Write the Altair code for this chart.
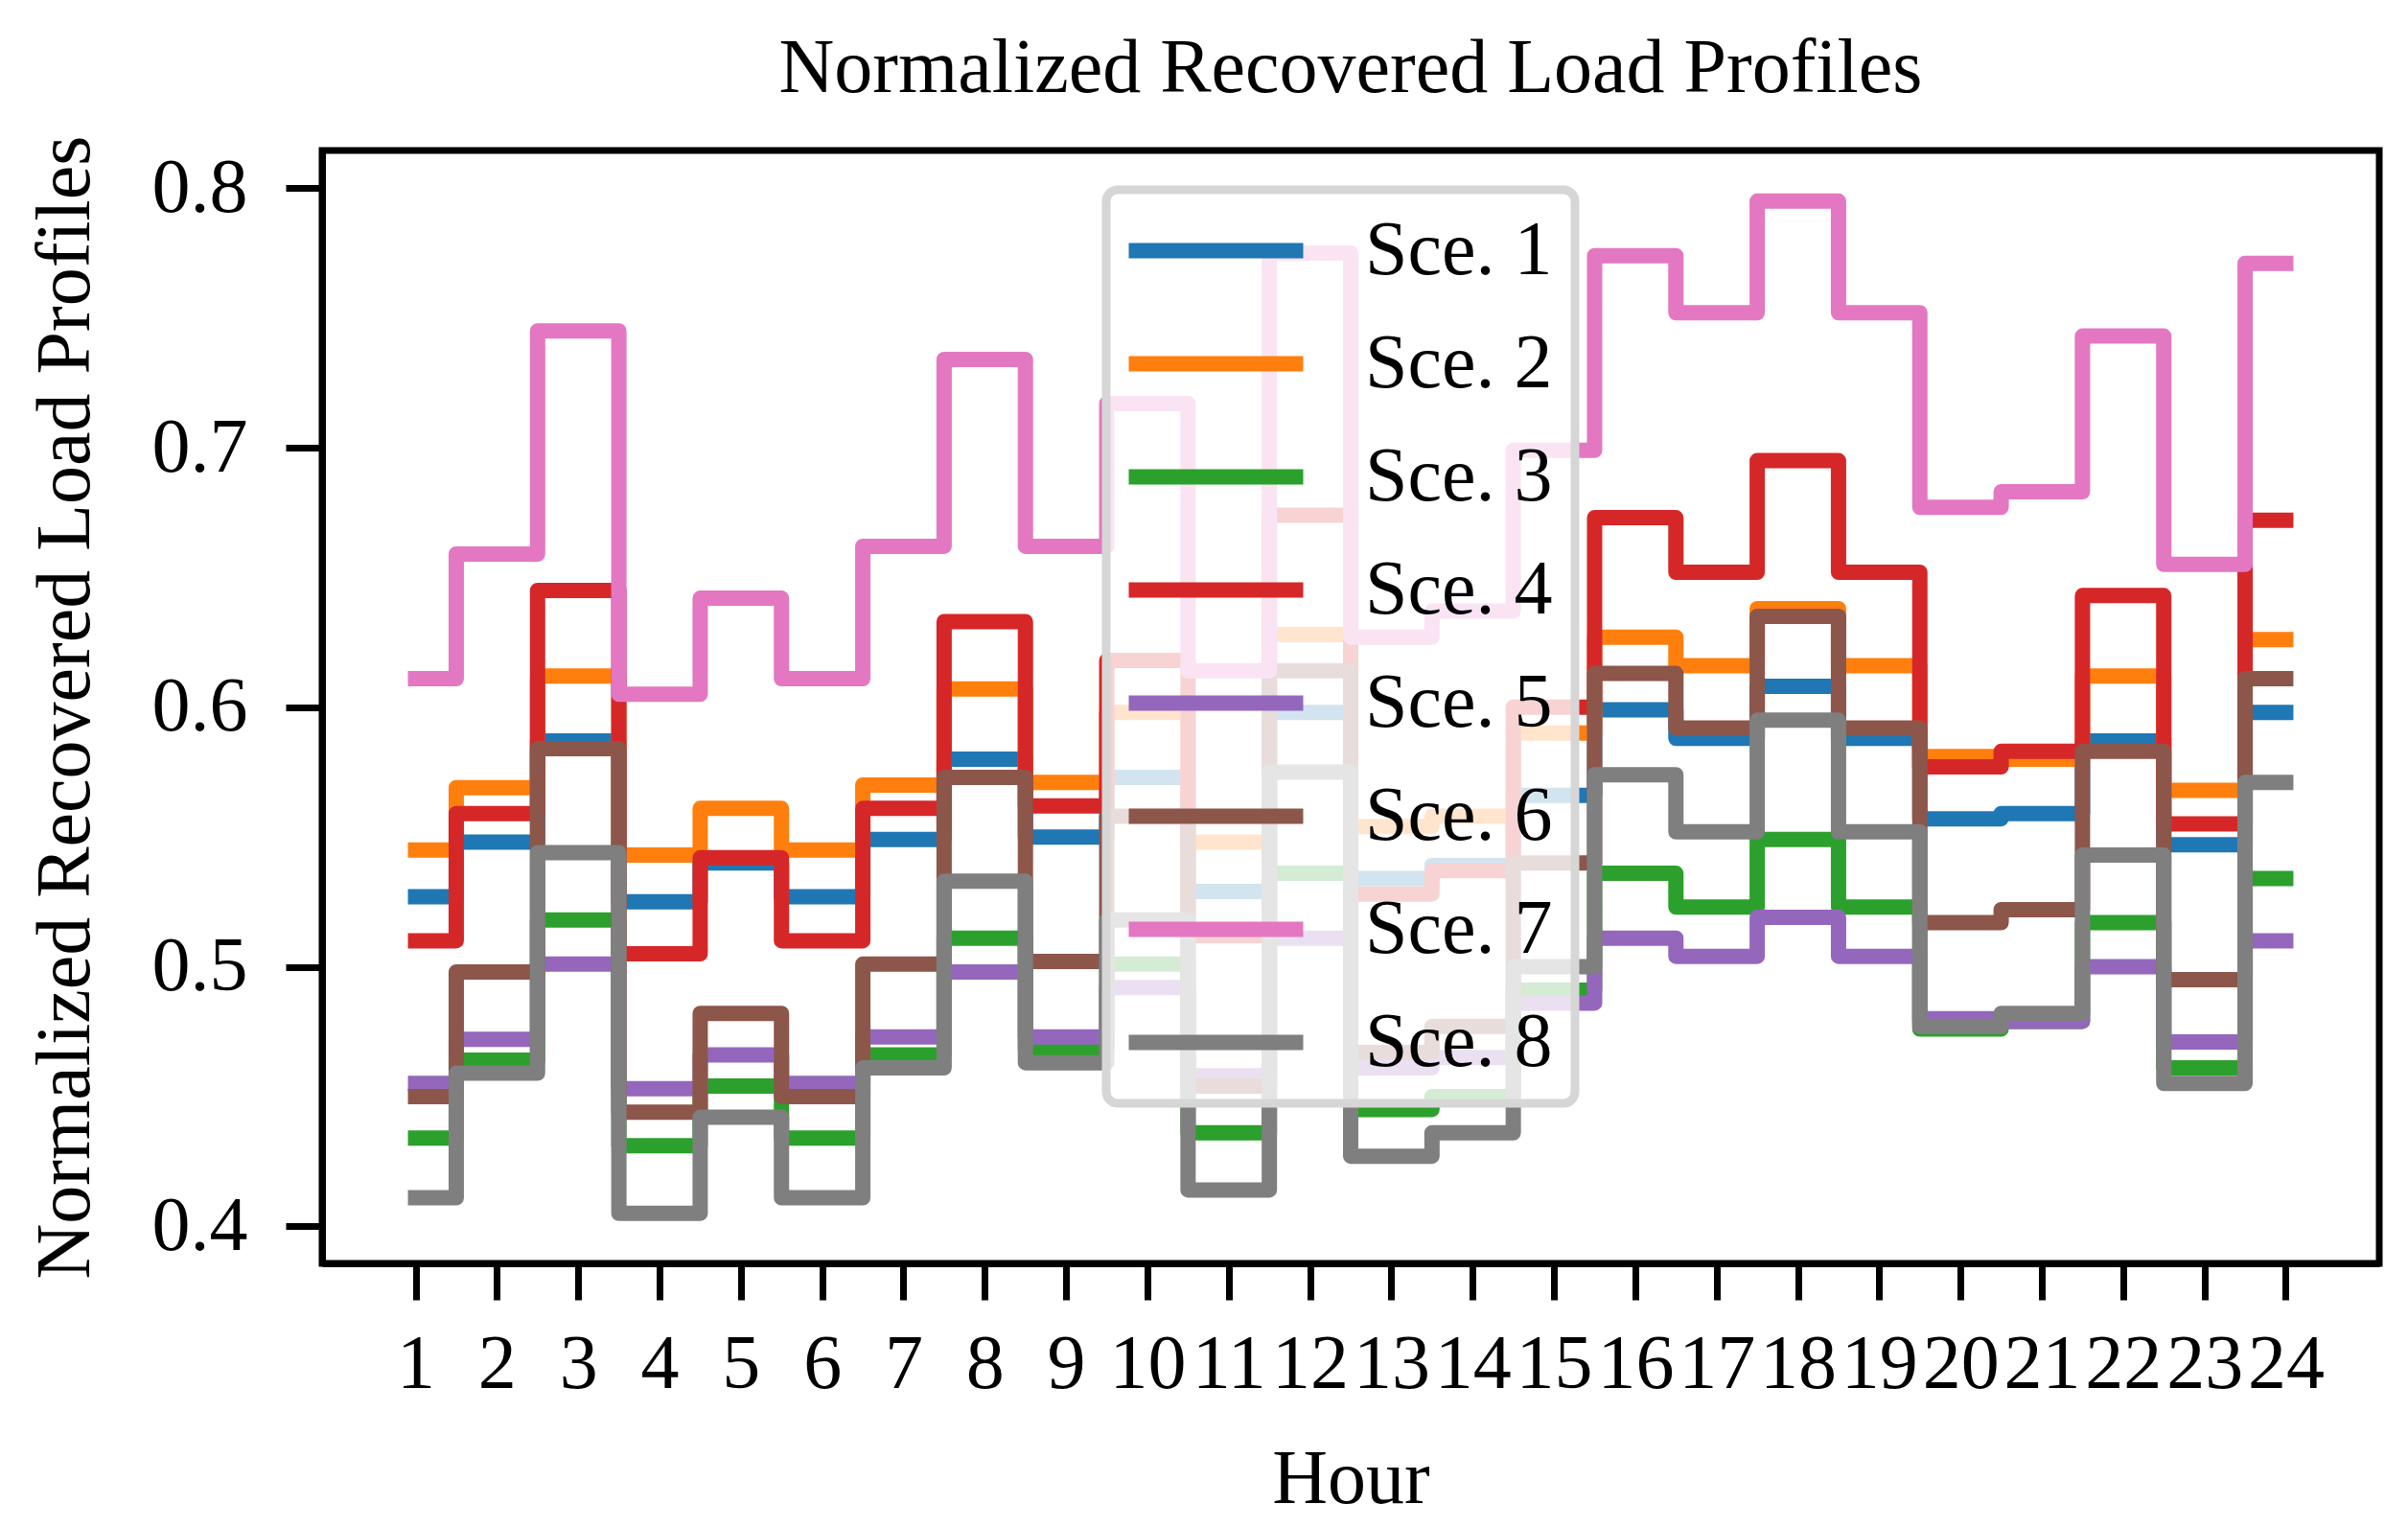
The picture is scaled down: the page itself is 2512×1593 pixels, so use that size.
import altair as alt
import pandas as pd

hours = list(range(1, 25))
series_names = ["Sce. 1", "Sce. 2", "Sce. 3", "Sce. 4", "Sce. 5", "Sce. 6", "Sce. 7", "Sce. 8"]
colors = ["#1f77b4", "#ff7f0e", "#2ca02c", "#d62728", "#9467bd", "#8c564b", "#e377c2", "#7f7f7f"]

sce1 = [0.527, 0.548, 0.587, 0.525, 0.540, 0.527, 0.549, 0.580, 0.550, 0.573, 0.529, 0.598,
        0.534, 0.539, 0.566, 0.599, 0.588, 0.608, 0.588, 0.557, 0.559, 0.587, 0.547, 0.598]
sce2 = [0.545, 0.569, 0.612, 0.543, 0.561, 0.545, 0.570, 0.607, 0.571, 0.598, 0.548, 0.628,
        0.554, 0.558, 0.590, 0.627, 0.616, 0.638, 0.616, 0.581, 0.580, 0.612, 0.568, 0.626]
sce3 = [0.434, 0.464, 0.518, 0.431, 0.454, 0.434, 0.466, 0.511, 0.468, 0.501, 0.436, 0.536,
        0.445, 0.450, 0.491, 0.536, 0.523, 0.549, 0.523, 0.476, 0.479, 0.517, 0.461, 0.534]
sce4 = [0.510, 0.559, 0.645, 0.505, 0.542, 0.510, 0.561, 0.633, 0.562, 0.618, 0.512, 0.674,
        0.528, 0.537, 0.600, 0.673, 0.652, 0.695, 0.652, 0.577, 0.583, 0.643, 0.555, 0.672]
sce5 = [0.455, 0.472, 0.501, 0.453, 0.466, 0.455, 0.473, 0.498, 0.473, 0.492, 0.458, 0.511,
        0.461, 0.465, 0.486, 0.511, 0.504, 0.519, 0.504, 0.480, 0.479, 0.500, 0.471, 0.510]
sce6 = [0.450, 0.498, 0.584, 0.444, 0.482, 0.450, 0.501, 0.573, 0.502, 0.558, 0.454, 0.614,
        0.467, 0.477, 0.540, 0.613, 0.592, 0.635, 0.592, 0.517, 0.522, 0.583, 0.495, 0.611]
sce7 = [0.611, 0.659, 0.745, 0.605, 0.642, 0.611, 0.662, 0.734, 0.662, 0.717, 0.614, 0.775,
        0.627, 0.637, 0.699, 0.774, 0.752, 0.795, 0.752, 0.677, 0.683, 0.743, 0.655, 0.771]
sce8 = [0.411, 0.459, 0.544, 0.405, 0.442, 0.411, 0.461, 0.533, 0.463, 0.518, 0.414, 0.575,
        0.427, 0.436, 0.500, 0.574, 0.552, 0.595, 0.552, 0.477, 0.482, 0.543, 0.455, 0.571]

y_ticks = [0.4, 0.5, 0.6, 0.7, 0.8]

all_series = [sce1, sce2, sce3, sce4, sce5, sce6, sce7, sce8]
rows = []
for k, (name, vals) in enumerate(zip(series_names, all_series)):
    for h, v in zip(hours, vals):
        rows.append({"Hour": h, "Load": v, "Scenario": name, "k": k})
df = pd.DataFrame(rows)

FONT = "Liberation Serif"
W, H = 2146, 1161

chart = alt.Chart(df).mark_line(
    interpolate="step", strokeWidth=16, strokeJoin="round", strokeCap="square"
).encode(
    x=alt.X("Hour:Q",
            scale=alt.Scale(domain=[-0.15, 25.15], nice=False, zero=False),
            axis=alt.Axis(values=hours, format="d", title="Hour", labelOverlap=False,
                          labelFlush=False, grid=False, labelPadding=28,
                          titleX=W / 2, titleY=249, titleBaseline="alphabetic")),
    y=alt.Y("Load:Q",
            scale=alt.Scale(domain=[0.3857, 0.8145], nice=False, zero=False),
            axis=alt.Axis(values=y_ticks, format=".1f", title="Normalized Recovered Load Profiles",
                          grid=False, labelPadding=40,
                          titleX=-244, titleY=H / 2, titleBaseline="alphabetic")),
    color=alt.Color("Scenario:N",
                    scale=alt.Scale(domain=series_names, range=colors),
                    legend=alt.Legend(title=None, orient="none", legendX=818, legendY=41,
                                      symbolType="M-2.8,0H2.8", symbolSize=4225,
                                      symbolStrokeWidth=16, symbolOffset=51,
                                      labelOffset=115, rowPadding=37, padding=23,
                                      fillColor="rgba(255,255,255,0.8)", strokeColor="#d6d6d6",
                                      cornerRadius=12, labelFont=FONT, labelFontSize=80,
                                      labelColor="black", labelLimit=0)),
    order=alt.Order("Hour:Q"),
).properties(
    width=W, height=H,
    title=alt.TitleParams("Normalized Recovered Load Profiles", font=FONT, fontSize=80,
                          fontWeight="normal", baseline="alphabetic", offset=21, dy=56,
                          frame="group", anchor="middle", color="black"),
    autosize=alt.AutoSizeParams(type="none"),
    padding={"left": 328, "top": 149, "right": 10, "bottom": 265},
).configure_view(
    stroke="black", strokeWidth=7
).configure_axis(
    domainColor="black", domainWidth=7, tickColor="black", tickWidth=7, tickSize=38,
    labelFont=FONT, labelFontSize=80, labelColor="black",
    titleFont=FONT, titleFontSize=80, titleFontWeight="normal", titleColor="black"
).configure_legend(
    strokeWidth=9
)

chart.save("out.html", embed_options={"renderer": "svg", "actions": False})
